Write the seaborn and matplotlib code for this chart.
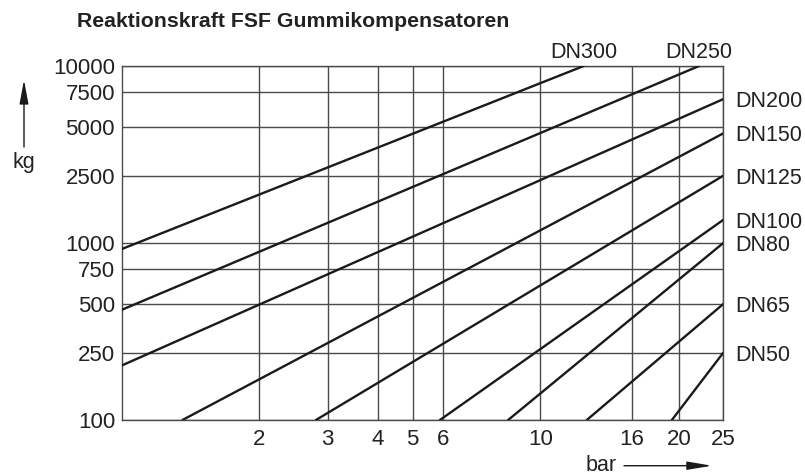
import numpy as np
import pandas as pd
import matplotlib
matplotlib.use("Agg")
import matplotlib.pyplot as plt
from matplotlib.ticker import FixedLocator, FixedFormatter
import seaborn as sns

# Nominal sizes and the end points of each reaction-force line (bar, kg)
dn_labels = ["DN300", "DN250", "DN200", "DN150", "DN125", "DN100", "DN80", "DN65", "DN50"]
bar_start = [1.0, 1.0, 1.0, 1.36, 2.8, 5.9, 8.45, 12.7, 19.3]
kg_start = [935, 460, 210, 100, 100, 100, 100, 100, 100]
bar_end = [12.5, 22.1, 25, 25, 25, 25, 25, 25, 25]
kg_end = [10000, 10000, 6900, 4550, 2500, 1370, 1000, 500, 250]

x_ticks = [2, 3, 4, 5, 6, 10, 16, 20, 25]
y_ticks = [100, 250, 500, 750, 1000, 2500, 5000, 7500, 10000]

# Chart paper grid: relative position of each graduation along the axis
x_grad = [1, 2, 3, 4, 5, 6, 10, 16, 20, 25]
x_grad_pos = [0.0, 0.2277, 0.3424, 0.4260, 0.4837, 0.5336, 0.6958, 0.8479, 0.9272, 1.0]
y_grad = [100, 250, 500, 750, 1000, 2500, 5000, 7500, 10000]
y_grad_pos = [0.0, 0.1901, 0.3277, 0.4266, 0.5, 0.6901, 0.8285, 0.9266, 1.0]


def paper_scale(values, positions):
    """Piecewise log scale following the printed graduations (extrapolated at the ends)."""
    lv = list(np.log10(values))
    ps = list(positions)
    s0 = (ps[1] - ps[0]) / (lv[1] - lv[0])
    s1 = (ps[-1] - ps[-2]) / (lv[-1] - lv[-2])
    lv = [lv[0] - 20] + lv + [lv[-1] + 20]
    ps = [ps[0] - 20 * s0] + ps + [ps[-1] + 20 * s1]
    lv = np.array(lv)
    ps = np.array(ps)

    def forward(v):
        v = np.asarray(v, dtype=float)
        return np.interp(np.log10(np.clip(v, 1e-12, None)), lv, ps)

    def inverse(p):
        p = np.asarray(p, dtype=float)
        return 10 ** np.interp(p, ps, lv)

    return forward, inverse


rows = []
for name, b0, k0, b1, k1 in zip(dn_labels, bar_start, kg_start, bar_end, kg_end):
    rows.append({"DN": name, "bar": b0, "kg": k0})
    rows.append({"DN": name, "bar": b1, "kg": k1})
df = pd.DataFrame(rows)

sns.set_style("white")
plt.rcParams["font.family"] = ["Liberation Sans", "DejaVu Sans"]

grid_col = "#4a4a4a"
ink = "#1a1a1a"

fig = plt.figure(figsize=(8.05, 4.75), dpi=100)
ax = fig.add_axes([0.1512, 0.1158, 0.7473, 0.7453])

ax.set_xscale("function", functions=paper_scale(x_grad, x_grad_pos))
ax.set_yscale("function", functions=paper_scale(y_grad, y_grad_pos))

sns.lineplot(data=df, x="bar", y="kg", units="DN", estimator=None,
             color=ink, lw=1.7, ax=ax, legend=False, zorder=3)

ax.set_xlim(1, 25)
ax.set_ylim(100, 10000)

ax.xaxis.set_major_locator(FixedLocator(x_ticks))
ax.xaxis.set_major_formatter(FixedFormatter([str(v) for v in x_ticks]))
ax.yaxis.set_major_locator(FixedLocator(y_ticks))
ax.yaxis.set_major_formatter(FixedFormatter([str(v) for v in y_ticks]))
ax.xaxis.set_minor_locator(FixedLocator([]))
ax.yaxis.set_minor_locator(FixedLocator([]))

ax.grid(True, which="major", color=grid_col, lw=1.0)
ax.tick_params(axis="both", length=0, labelsize=16, colors="#222222")
ax.tick_params(axis="x", pad=6.5)
ax.tick_params(axis="y", pad=4.8)
for sp in ax.spines.values():
    sp.set_visible(True)
    sp.set_color(grid_col)
    sp.set_linewidth(1.0)
ax.set_xlabel("")
ax.set_ylabel("")

# Size labels at the end of each line
for name, b1, k1 in zip(dn_labels, bar_end, kg_end):
    if k1 >= 10000:
        ax.annotate(name, xy=(b1, k1), xytext=(0, 5.5), textcoords="offset points",
                    ha="center", va="baseline", fontsize=15.5, color="#222222")
    else:
        ax.annotate(name, xy=(b1, k1), xytext=(8.4, 0), textcoords="offset points",
                    ha="left", va="center_baseline", fontsize=15.5, color="#222222")

fig.text(77 / 805, 1 - 27.3 / 475, "Reaktionskraft FSF Gummikompensatoren",
         ha="left", va="baseline", fontsize=15.3, fontweight="bold", color="#222222")

# Axis unit labels with arrows
fig.text(24 / 805, 1 - 168 / 475, "kg", ha="center", va="baseline",
         fontsize=15.5, color="#222222")
ax.annotate("", xy=(24, 475 - 80), xytext=(24, 475 - 147),
            xycoords="figure pixels", textcoords="figure pixels",
            arrowprops=dict(arrowstyle="-|>,head_length=1.45,head_width=0.27",
                            mutation_scale=10, color=ink, lw=1.0,
                            shrinkA=0, shrinkB=0))

fig.text(601 / 805, 1 - 471 / 475, "bar", ha="center", va="baseline",
         fontsize=15.5, color="#222222")
ax.annotate("", xy=(712, 475 - 465.7), xytext=(624, 475 - 465.7),
            xycoords="figure pixels", textcoords="figure pixels",
            arrowprops=dict(arrowstyle="-|>,head_length=1.5,head_width=0.25",
                            mutation_scale=10, color=ink, lw=1.0,
                            shrinkA=0, shrinkB=0))

fig.savefig("out.png", dpi=100)
